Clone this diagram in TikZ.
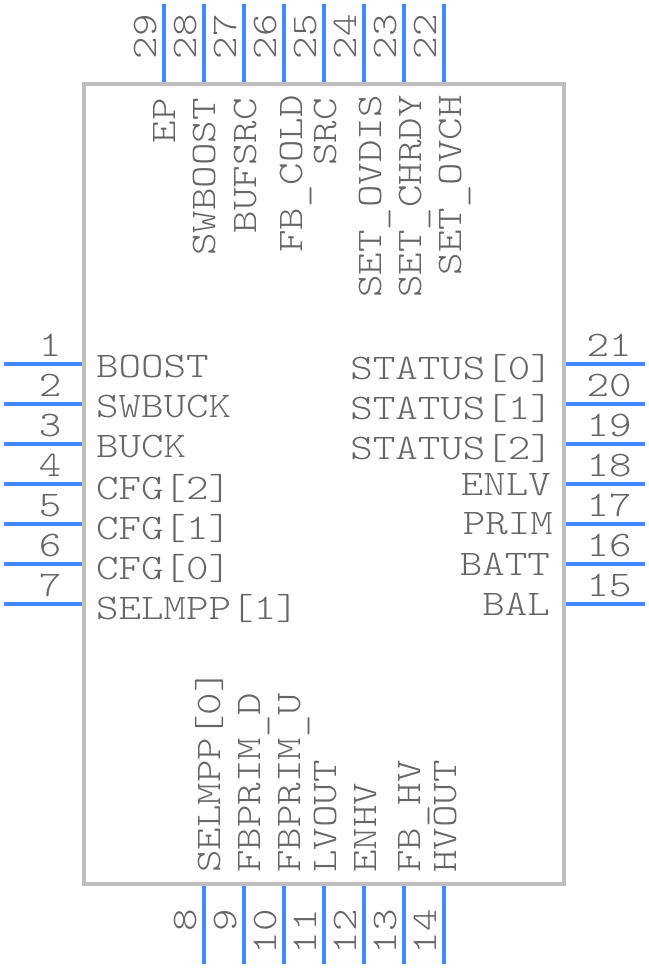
\documentclass[tikz,border=0pt]{standalone}
\usepackage{fontspec}
\usetikzlibrary{positioning}
\definecolor{pinblue}{HTML}{4488FF}
\definecolor{bodygray}{HTML}{BFBFBF}
\definecolor{textgray}{HTML}{666666}
\newfontfamily\chipfam[FakeStretch=1.19]{Latin Modern Mono Light}
\newcommand{\chipfont}{\chipfam\fontsize{36}{36}\selectfont}
\newcommand{\lowbar}{\raisebox{-3pt}{\_}}

\begin{document}
\begin{tikzpicture}[x=1pt, y=-1pt,
    chipbox/.style={draw=bodygray, line width=4pt, rectangle, minimum width=480pt, minimum height=800pt},
    pinline/.style={draw=pinblue, line width=4pt},
    pinnum/.style={font=\chipfont, text=textgray, inner sep=0pt},
    leftname/.style={pinnum, anchor=base west},
    rightname/.style={pinnum, anchor=base east},
    topname/.style={pinnum, rotate=90, anchor=base east},
    botname/.style={pinnum, rotate=90, anchor=base west}]

    \useasboundingbox (0,0) rectangle (648,968);

    \node [chipbox] (chip) at (324,484) {};

    % pins and their numbers
    \foreach \n/\py in {1/364,2/404,3/444,4/484,5/524,6/564,7/604} {
        \coordinate (pin\n) at (4,\py);
        \draw[pinline] (pin\n) -- (pin\n -| chip.west);
        \node [pinnum, anchor=base] (num\n) at (50,\py-8) {\n};
    }
    \foreach \n/\py in {21/364,20/404,19/444,18/484,17/524,16/564,15/604} {
        \coordinate (pin\n) at (645,\py);
        \draw[pinline] (pin\n) -- (pin\n -| chip.east);
        \node [pinnum, anchor=base] (num\n) at (609,\py-8) {\n};
    }
    \foreach \n/\px in {29/164,28/204,27/244,26/284,25/324,24/364,23/404,22/444} {
        \coordinate (pin\n) at (\px,4);
        \draw[pinline] (pin\n) -- (pin\n |- chip.north);
        \node [pinnum, rotate=90, anchor=base] (num\n) at (\px-8,37) {\n};
    }
    \foreach \n/\px in {8/204,9/244,10/284,11/324,12/364,13/404,14/444} {
        \coordinate (pin\n) at (\px,964);
        \draw[pinline] (pin\n) -- (pin\n |- chip.south);
        \node [pinnum, rotate=90, anchor=base east] (num\n) at (\px-8,909) {\n};
    }

    % left side
    \node [leftname] (boost) at (96,377) {BOOST};
    \node [leftname] (swbuck) at (96,417) {SWBUCK};
    \node [leftname] (buck) at (96,457) {BUCK};
    \node [leftname] (cfgtwo) at (96,499) {CFG[2]};
    \node [leftname] (cfgone) at (96,539) {CFG[1]};
    \node [leftname] (cfgzero) at (96,579) {CFG[0]};
    \node [leftname] (selmppone) at (96,619) {SELMPP[1]};

    % right side
    \node [rightname] (statuszero) at (553,379) {STATUS[0]};
    \node [rightname] (statusone) at (553,419) {STATUS[1]};
    \node [rightname] (statustwo) at (553,459) {STATUS[2]};
    \node [rightname] (enlv) at (551,495) {ENLV};
    \node [rightname] (prim) at (553,534) {PRIM};
    \node [rightname] (batt) at (550,575) {BATT};
    \node [rightname] (bal) at (550,615) {BAL};

    % top side
    \node [topname] (ep) at (175,98) {EP};
    \node [topname] (swboost) at (215,98) {SWBOOST};
    \node [topname] (bufsrc) at (256,98) {BUFSRC};
    \node [topname] (fbcold) at (302,95) {FB\lowbar COLD};
    \node [topname] (src) at (336,98) {SRC};
    \node [topname] (setovdis) at (381,95) {SET\lowbar OVDIS};
    \node [topname] (setchrdy) at (421,95) {SET\lowbar CHRDY};
    \node [topname] (setovch) at (461,95) {SET\lowbar OVCH};

    % bottom side
    \node [botname] (selmppzero) at (220,873) {SELMPP[0]};
    \node [botname] (fbprimd) at (260,873) {FBPRIM\lowbar D};
    \node [botname] (fbprimu) at (300,873) {FBPRIM\lowbar U};
    \node [botname] (lvout) at (336,873) {LVOUT};
    \node [botname] (enhv) at (376,873) {ENHV};
    \node [botname] (fbhv) at (420,873) {FB\lowbar HV};
    \node [botname] (hvout) at (456,873) {HVOUT};

\end{tikzpicture}
\end{document}
